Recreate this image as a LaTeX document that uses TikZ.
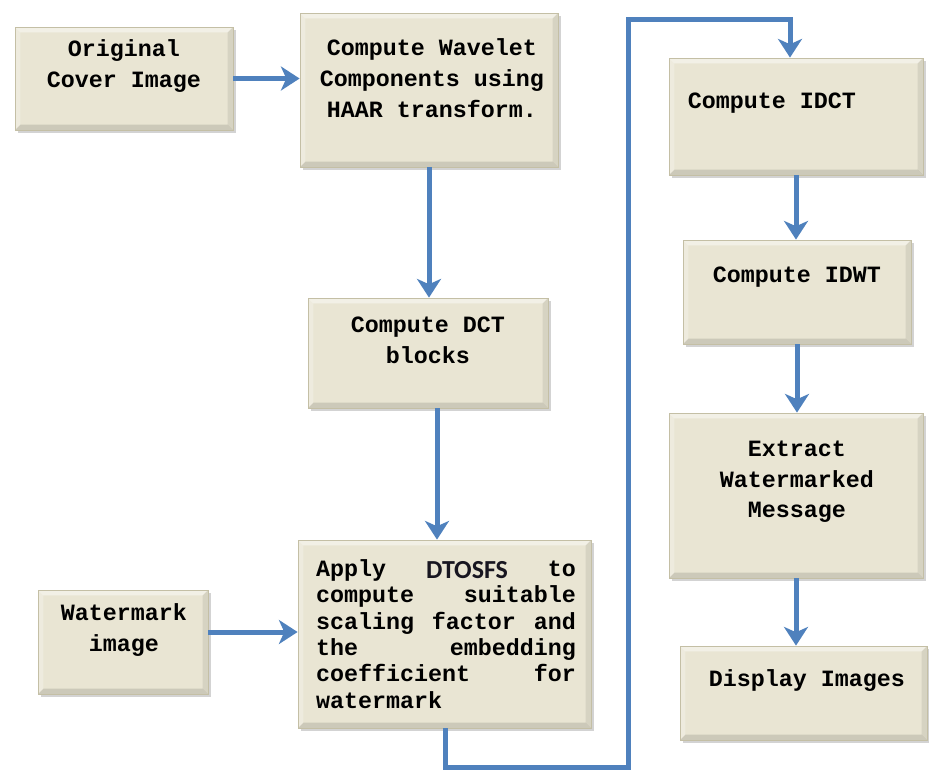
\documentclass[tikz,border=0pt]{standalone}
\usepackage{fontspec}
\setmonofont{Liberation Mono}
\newfontfamily\dtfont{Carlito}
\usepackage{tikz}
\usetikzlibrary{arrows.meta,shadows}

\definecolor{boxfill}{RGB}{233,229,211}
\definecolor{boxline}{RGB}{196,191,165}
\definecolor{flowblue}{RGB}{79,129,189}
\definecolor{dtink}{RGB}{24,22,32}

\begin{document}
\begin{tikzpicture}[
  x=0.75pt, y=-0.75pt,
  blk/.style={rectangle, draw=boxline, line width=0.6pt, fill=boxfill, inner sep=0pt,
              drop shadow={shadow xshift=2pt, shadow yshift=-2.5pt, opacity=0.35},
              path picture={
                \fill[white, opacity=0.45]
                  (path picture bounding box.north west) -- (path picture bounding box.north east)
                  -- ([xshift=-4pt,yshift=-4pt]path picture bounding box.north east)
                  -- ([xshift=4pt,yshift=-4pt]path picture bounding box.north west) -- cycle;
                \fill[white, opacity=0.25]
                  (path picture bounding box.north west) -- ([xshift=4pt,yshift=-4pt]path picture bounding box.north west)
                  -- ([xshift=4pt,yshift=4pt]path picture bounding box.south west)
                  -- (path picture bounding box.south west) -- cycle;
                \fill[black, opacity=0.12]
                  (path picture bounding box.south west) -- (path picture bounding box.south east)
                  -- ([xshift=-4pt,yshift=4pt]path picture bounding box.south east)
                  -- ([xshift=4pt,yshift=4pt]path picture bounding box.south west) -- cycle;
                \fill[black, opacity=0.08]
                  (path picture bounding box.north east) -- ([xshift=-4pt,yshift=-4pt]path picture bounding box.north east)
                  -- ([xshift=-4pt,yshift=4pt]path picture bounding box.south east)
                  -- (path picture bounding box.south east) -- cycle;}},
  lbl/.style={inner sep=0pt, align=center,
              font=\fontsize{17.5}{23}\selectfont\ttfamily\bfseries},
  arr/.style={draw=flowblue, line width=3.75pt,
              -{Stealth[length=14pt, width=18pt, inset=4pt]}}]
  \useasboundingbox (0,0) rectangle (929,776);

  % left column
  \node[blk, minimum width=163.5pt, minimum height=77.25pt] (orig) at (124,78.5) {};
  \node[blk, minimum width=127.5pt, minimum height=78pt] (wm) at (123,642) {};
  % middle column
  \node[blk, minimum width=193.5pt, minimum height=115.5pt] (wav) at (429,90) {};
  \node[blk, minimum width=180pt, minimum height=82.5pt] (dct) at (428,353) {};
  \node[blk, minimum width=219.75pt, minimum height=141pt] (apply) at (444.5,634) {};
  % right column
  \node[blk, minimum width=190.5pt, minimum height=87.75pt] (idct) at (796,116.5) {};
  \node[blk, minimum width=171pt, minimum height=78pt] (idwt) at (797,292) {};
  \node[blk, minimum width=190.5pt, minimum height=123.75pt] (ext) at (796,495.5) {};
  \node[blk, minimum width=185.25pt, minimum height=70.5pt] (disp) at (803.5,693) {};

  % texts
  \node[lbl] (origtxt) at (124,66) {Original\\Cover Image};
  \node[lbl] (wmtxt) at (124,630) {Watermark\\image};
  \node[lbl] (wavtxt) at (432,78) {Compute Wavelet\\Components using\\HAAR transform.};
  \node[lbl] (dcttxt) at (428,340) {Compute DCT\\blocks};
  \node[lbl, align=left, text width=195pt,
        font=\fontsize{17.5}{19.8}\selectfont\ttfamily\bfseries] (applytxt) at (446,634)
    {Apply\hfill\raisebox{-1.5pt}{\dtfont\fontsize{19.5}{19.8}\selectfont\color{dtink}DTOSFS}\hfill to\\
     compute\hfill suitable\\
     scaling\hfill factor\hfill and\\
     the\hfill embedding\\
     coefficient\hfill for\\
     watermark};
  \node[lbl] (idcttxt) at (772,103) {Compute IDCT};
  \node[lbl] (idwttxt) at (797,277) {Compute IDWT};
  \node[lbl] (exttxt) at (797,482) {Extract\\Watermarked\\Message};
  \node[lbl] (disptxt) at (807,681) {Display Images};

  % loop route
  \coordinate (loopbot) at (628,767);
  \coordinate (looptop) at (628,19);

  \draw[arr] (orig) -- (orig -| wav.west);
  \draw[arr] (wav.south) -- (wav.south |- dct.north);
  \draw[arr] ([xshift=6.75pt]dct.south) -- ([xshift=6.75pt]dct.south |- apply.north);
  \draw[arr] ([yshift=7.5pt]wm.east) -- ([yshift=7.5pt]wm.east -| apply.west);
  \draw[arr] ([xshift=1pt]apply.south) |- (loopbot) -- (looptop) -| ([xshift=-4.5pt]idct.north);
  \draw[arr] (idct.south) -- (idct.south |- idwt.north);
  \draw[arr] (idwt.south) -- (idwt.south |- ext.north);
  \draw[arr] (ext.south) -- (ext.south |- disp.north);
\end{tikzpicture}
\end{document}
